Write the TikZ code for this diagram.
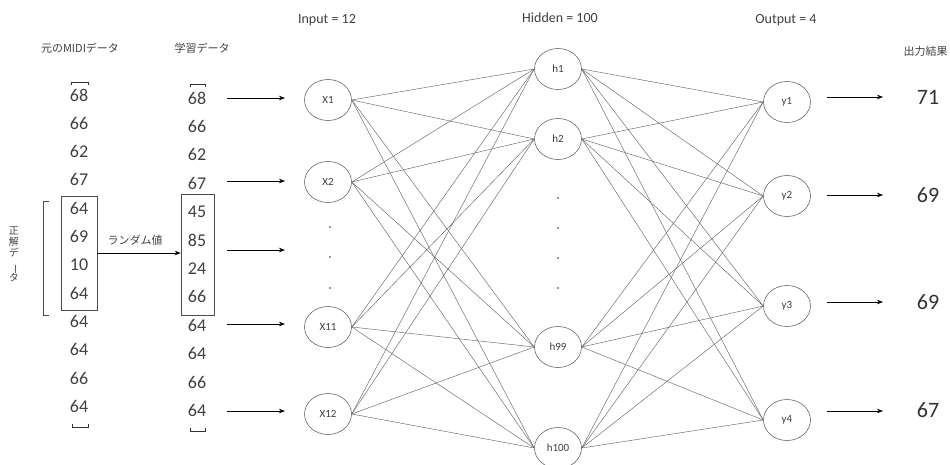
\documentclass[tikz,border=0pt]{standalone}
\usepackage{fontspec}
\usepackage{graphicx}
\setmainfont{Carlito}
\newfontfamily\jp{Noto Sans CJK JP}
\usetikzlibrary{shapes.geometric,arrows.meta}
\begin{document}
\begin{tikzpicture}[x=1pt,y=-1pt,
 neuron/.style={ellipse,draw=black!60,line width=0.6pt,minimum width=47pt,minimum height=41pt,inner sep=0pt,font=\fontsize{11}{12}\selectfont,text=black!75},
 conn/.style={draw=black!60,line width=0.45pt},
 inarrow/.style={-{Stealth[length=6pt,width=4.5pt]},line width=0.6pt},
 num/.style={font=\fontsize{18}{20}\selectfont,text=black!75,inner sep=0pt},
 big/.style={font=\fontsize{22}{24}\selectfont,text=black!80},
 jlabel/.style={font=\jp\fontsize{11}{13}\selectfont,text=black!75},
 title/.style={font=\fontsize{14}{16}\selectfont,text=black!75},
 brk/.style={line width=0.6pt,draw=black!80},
 dotm/.style={circle,fill=black!80,inner sep=0pt,minimum size=1.8pt},
 databox/.style={draw=black!70,line width=0.6pt,inner sep=0pt},
]
\useasboundingbox (0,0) rectangle (950,464);

% titles
\node[jlabel] (tmidi) at (80,48) {元のMIDIデータ};
\node[jlabel] (tlearn) at (202,48) {学習データ};
\node[title] (tin) at (327,20) {Input = 12};
\node[title] (thid) at (560,18) {Hidden = 100};
\node[title] (tout) at (786,20) {Output = 4};
\node[jlabel,anchor=west] (tres) at (900,51) {出力結果};

% columns
\foreach \v [count=\i] in {68,66,62,67,64,69,10,64,64,64,66,64}
  \node[num] (a\i) at (79,{95+28.3*(\i-1)}) {\v};
\foreach \v [count=\i] in {68,66,62,67,45,85,24,66,64,64,66,64}
  \node[num] (b\i) at (197,{98+28.4*(\i-1)}) {\v};

% boxes
\node[databox,minimum width=36pt,minimum height=114pt] (boxa) at (79,253) {};
\node[databox,minimum width=33pt,minimum height=121pt] (boxb) at (197.5,254.5) {};
\draw[inarrow] (boxa.east) -- (boxa.east -| boxb.west);
\node[jlabel] (rand) at (135,240) {ランダム値};

% small brackets
\draw[brk] (71,85) -- (71,82) -- (88,82) -- (88,85);
\draw[brk] (72,424) -- (72,427) -- (88,427) -- (88,424);
\draw[brk] (190,87) -- (190,84) -- (205,84) -- (205,87);
\draw[brk] (190,428) -- (190,431) -- (205,431) -- (205,428);

% big bracket and vertical label
\draw[brk,draw=black!70] (49,201) -- (43,201) -- (43,315) -- (49,315);
\node[jlabel,align=center,inner sep=0pt,font=\jp\fontsize{10}{12}\selectfont] (seikai) at (14,254)
  {正\\[-1pt]解\\[-1pt]デ\\[-4pt]\rotatebox{-90}{ー}\\[-2pt]タ};

% input neurons
\node[neuron] (x1) at (328,100) {X1};
\node[neuron] (x2) at (328,182) {X2};
\node[neuron] (x11) at (328,327) {X11};
\node[neuron] (x12) at (328,414) {X12};
\node[dotm] (dx1) at (330,227) {};
\node[dotm] (dx2) at (330,257) {};
\node[dotm] (dx3) at (330,288) {};

% hidden neurons
\node[neuron] (h1) at (558,69) {h1};
\node[neuron] (h2) at (558,139) {h2};
\node[neuron] (h99) at (558,347) {h99};
\node[neuron] (h100) at (558,448) {h100};
\node[dotm] (dh1) at (558,198) {};
\node[dotm] (dh2) at (558,228) {};
\node[dotm] (dh3) at (558,258) {};
\node[dotm] (dh4) at (558,288) {};

% output neurons
\node[neuron] (y1) at (787,102) {y1};
\node[neuron] (y2) at (787,196) {y2};
\node[neuron] (y3) at (787,306) {y3};
\node[neuron] (y4) at (787,420) {y4};

% connections
\foreach \i in {x1,x2,x11,x12}
  \foreach \j in {h1,h2,h99,h100}
    \draw[conn] (\i.east) -- (\j.west);
\foreach \i in {h1,h2,h99,h100}
  \foreach \j in {y1,y2,y3,y4}
    \draw[conn] (\i.east) -- (\j.west);

% input arrows
\coordinate (ia1) at (227,98);  \coordinate (ib1) at (285,98);
\coordinate (ia2) at (227,181); \coordinate (ib2) at (285,181);
\coordinate (ia3) at (227,250); \coordinate (ib3) at (285,250);
\coordinate (ia4) at (227,324); \coordinate (ib4) at (285,324);
\coordinate (ia5) at (227,411); \coordinate (ib5) at (285,411);
\foreach \k in {1,...,5} \draw[inarrow] (ia\k) -- (ib\k);

% outputs
\node[big] (o1) at (928,97) {71};
\node[big] (o2) at (928,195) {69};
\node[big] (o3) at (928,302) {69};
\node[big] (o4) at (928,410) {67};
\coordinate (oa1) at (827,97);  \coordinate (ob1) at (883,97);
\coordinate (oa2) at (827,195); \coordinate (ob2) at (883,195);
\coordinate (oa3) at (827,302); \coordinate (ob3) at (883,302);
\coordinate (oa4) at (827,411); \coordinate (ob4) at (883,411);
\foreach \k in {1,...,4} \draw[inarrow] (oa\k) -- (ob\k);
\end{tikzpicture}
\end{document}
